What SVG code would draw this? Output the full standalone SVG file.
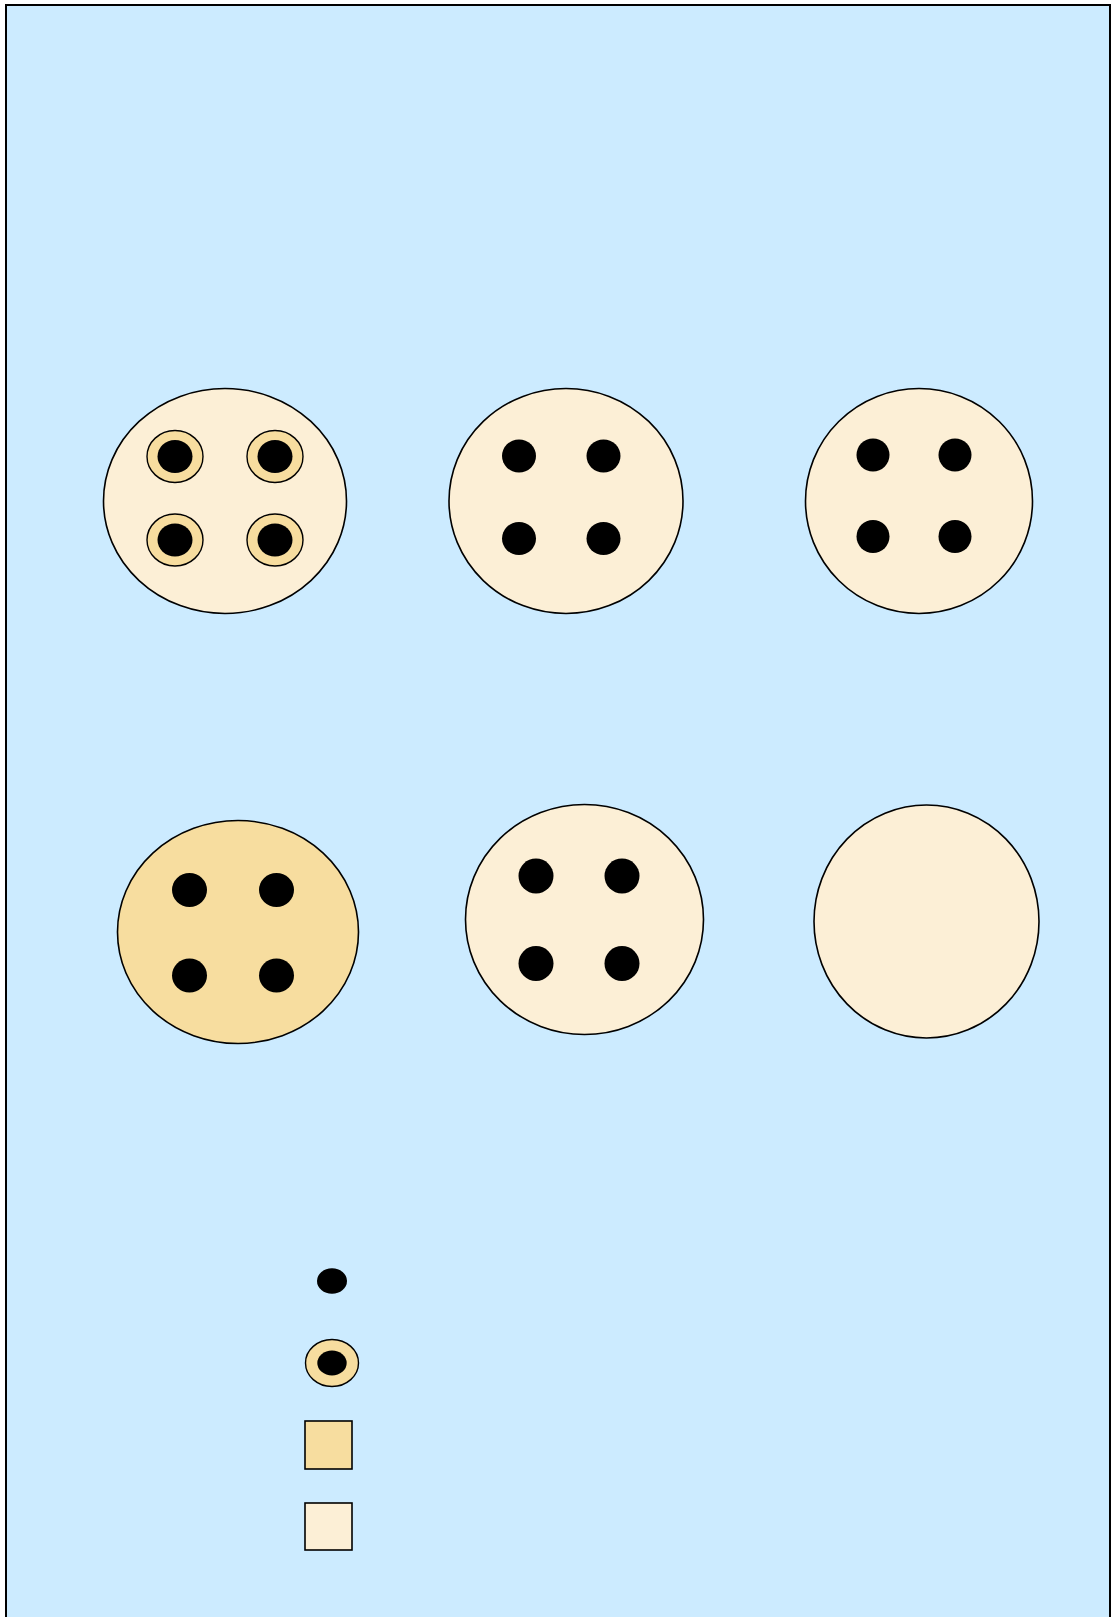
<svg xmlns="http://www.w3.org/2000/svg" width="1116" height="1617" viewBox="0 0 1116 1617">
<style>
.bg{fill:#ccebff;stroke:#000;stroke-width:2}
.light{fill:#fcefd6;stroke:#000;stroke-width:1.6}
.dark{fill:#f7dd9f;stroke:#000;stroke-width:1.6}
.ring{fill:#f7dd9f;stroke:#000;stroke-width:1.4}
.dot{fill:#000}
</style>
<rect class="bg" x="6" y="5" width="1104" height="1620"/>
<g id="cell1">
<ellipse class="light" cx="225" cy="501" rx="121.5" ry="112.5"/>
<ellipse class="ring" cx="175" cy="456.5" rx="28" ry="26"/>
<ellipse class="dot" cx="175" cy="456.5" rx="17.5" ry="16.5"/>
<ellipse class="ring" cx="275" cy="456.5" rx="28" ry="26"/>
<ellipse class="dot" cx="275" cy="456.5" rx="17.5" ry="16.5"/>
<ellipse class="ring" cx="175" cy="540" rx="28" ry="26"/>
<ellipse class="dot" cx="175" cy="540" rx="17.5" ry="16.5"/>
<ellipse class="ring" cx="275" cy="540" rx="28" ry="26"/>
<ellipse class="dot" cx="275" cy="540" rx="17.5" ry="16.5"/>
</g>
<g id="cell2">
<ellipse class="light" cx="566" cy="501" rx="117" ry="112.5"/>
<ellipse class="dot" cx="519" cy="456" rx="17" ry="16.5"/>
<ellipse class="dot" cx="603.5" cy="456" rx="17" ry="16.5"/>
<ellipse class="dot" cx="519" cy="538.5" rx="17" ry="16.5"/>
<ellipse class="dot" cx="603.5" cy="538.5" rx="17" ry="16.5"/>
</g>
<g id="cell3">
<ellipse class="light" cx="919" cy="501" rx="113.5" ry="112.5"/>
<ellipse class="dot" cx="873" cy="455" rx="16.5" ry="16.5"/>
<ellipse class="dot" cx="955" cy="455" rx="16.5" ry="16.5"/>
<ellipse class="dot" cx="873" cy="536.5" rx="16.5" ry="16.5"/>
<ellipse class="dot" cx="955" cy="536.5" rx="16.5" ry="16.5"/>
</g>
<g id="cell4">
<ellipse class="dark" cx="238" cy="932" rx="120.5" ry="111.5"/>
<ellipse class="dot" cx="189.5" cy="890" rx="17.5" ry="17"/>
<ellipse class="dot" cx="276.5" cy="890" rx="17.5" ry="17"/>
<ellipse class="dot" cx="189.5" cy="975.5" rx="17.5" ry="17"/>
<ellipse class="dot" cx="276.5" cy="975.5" rx="17.5" ry="17"/>
</g>
<g id="cell5">
<ellipse class="light" cx="584.5" cy="919.5" rx="119" ry="115"/>
<ellipse class="dot" cx="536" cy="876" rx="17.5" ry="17.5"/>
<ellipse class="dot" cx="622" cy="876" rx="17.5" ry="17.5"/>
<ellipse class="dot" cx="536" cy="963.5" rx="17.5" ry="17.5"/>
<ellipse class="dot" cx="622" cy="963.5" rx="17.5" ry="17.5"/>
</g>
<g id="cell6">
<ellipse class="light" cx="926.5" cy="921.5" rx="112.5" ry="116.5"/>
</g>
<g id="legend">
<g id="legend-dot"><ellipse class="dot" cx="332" cy="1281" rx="15" ry="12.7"/></g>
<g id="legend-ring"><ellipse class="ring" cx="332" cy="1363" rx="26.5" ry="23.5"/><ellipse class="dot" cx="332" cy="1363" rx="14.7" ry="12.5"/></g>
<g id="legend-dark"><rect class="dark" x="305" y="1421" width="47" height="48"/></g>
<g id="legend-light"><rect class="light" x="305" y="1503" width="47" height="47"/></g>
</g>
<g id="connectors"/>
</svg>
